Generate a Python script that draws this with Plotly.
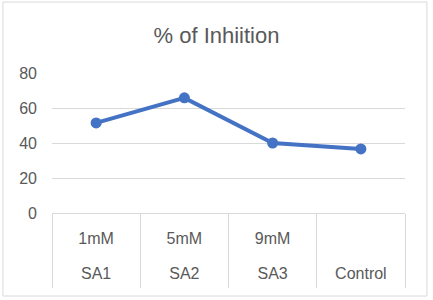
import plotly.graph_objects as go

groups = ["SA1", "SA2", "SA3", "Control"]
doses = ["1mM", "5mM", "9mM", ""]
inhibition = [51.5, 65.8, 40, 36.6]
y_ticks = [0, 20, 40, 60, 80]

FONT = "Liberation Sans, Arial"
GRAY = "#595959"
LINE = "#D9D9D9"

fig = go.Figure()
fig.add_trace(go.Scatter(
    x=groups,
    y=inhibition,
    mode="lines+markers",
    line=dict(color="#4472C4", width=4),
    marker=dict(color="#4472C4", size=11),
    cliponaxis=False,
))

idx = list(range(len(groups)))

fig.update_layout(
    width=433, height=300,
    margin=dict(l=52, r=28, t=73, b=87),
    paper_bgcolor="white", plot_bgcolor="white",
    title=dict(text="% of Inhiition", x=0.5, xanchor="center", y=0.883, yanchor="middle",
               font=dict(family=FONT, size=22, color=GRAY)),
    font=dict(family=FONT, size=16, color=GRAY),
    showlegend=False,
    xaxis=dict(type="category", categoryarray=groups, range=[-0.5, 3.5],
               showline=True, linecolor=LINE, linewidth=1,
               showgrid=False, tickson="boundaries", ticks="outside", ticklen=74,
               tickcolor=LINE, tickwidth=1, showticklabels=False, automargin=False),
    xaxis2=dict(overlaying="x", anchor="y", side="bottom", range=[-0.5, 3.5],
                tickvals=idx, ticktext=doses, ticks="", showgrid=False, zeroline=False,
                showline=False, ticklabelstandoff=14, automargin=False,
                tickfont=dict(family=FONT, size=16, color=GRAY)),
    xaxis3=dict(overlaying="x", anchor="y", side="bottom", range=[-0.5, 3.5],
                tickvals=idx, ticktext=groups, ticks="", showgrid=False, zeroline=False,
                showline=False, ticklabelstandoff=49, automargin=False,
                tickfont=dict(family=FONT, size=16, color=GRAY)),
    yaxis=dict(range=[0, 80], tickvals=y_ticks, showgrid=True, gridcolor=LINE,
               zeroline=False, showline=False, ticks="", ticklabelstandoff=14,
               automargin=False, tickfont=dict(family=FONT, size=16, color=GRAY)),
)
# dummy traces so overlay axes render
fig.add_trace(go.Scatter(x=[None], y=[None], xaxis="x2", showlegend=False, hoverinfo="skip"))
fig.add_trace(go.Scatter(x=[None], y=[None], xaxis="x3", showlegend=False, hoverinfo="skip"))

fig.add_shape(type="rect", xref="paper", yref="paper", x0=-0.139, x1=1.062, y0=-0.593, y1=1.507,
              line=dict(color=LINE, width=1), layer="below")
fig.write_html("out.html", config={"displayModeBar": False},
               post_script="document.body.style.margin='0px';")
